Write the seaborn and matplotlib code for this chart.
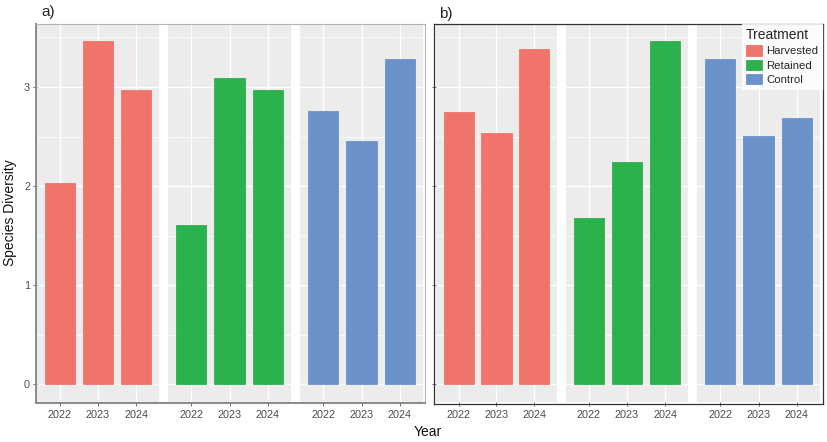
import matplotlib
matplotlib.use("Agg")
import matplotlib.pyplot as plt
from matplotlib.patches import Patch
import seaborn as sns
import pandas as pd

sns.set_theme(style="white")
plt.rcParams['font.family'] = ['Liberation Sans', 'DejaVu Sans']

years = ["2022", "2023", "2024"]
treatments = ["Harvested", "Retained", "Control"]
colors = ["#F0746A", "#2BB24C", "#6B91CB"]
a_harvested = [2.03, 3.46, 2.97]
a_retained = [1.61, 3.09, 2.97]
a_control = [2.76, 2.45, 3.28]
b_harvested = [2.75, 2.54, 3.38]
b_retained = [1.68, 2.24, 3.46]
b_control = [3.28, 2.51, 2.69]
y_ticks = [0, 1, 2, 3]

rows = []
for panel, vals in [("a", [a_harvested, a_retained, a_control]),
                    ("b", [b_harvested, b_retained, b_control])]:
    for t, v in zip(treatments, vals):
        for yr, d in zip(years, v):
            rows.append({"panel": panel, "Treatment": t, "Year": yr, "Diversity": d})
df = pd.DataFrame(rows)

W, H = 827, 442
fig = plt.figure(figsize=(W / 100, H / 100), dpi=100)

def px_axes(x0, y0, x1, y1, **kw):
    return fig.add_axes([x0 / W, (H - y1) / H, (x1 - x0) / W, (y1 - y0) / H], **kw)

top, bot = 25, 402
ylim = (-0.18, 3.626)
facets = {
    "a": [(37, 159), (168, 291), (300, 423)],
    "b": [(436, 557), (566, 688), (697, 820)],
}

# Panel frames
fa = px_axes(36, 24, 425, 403)
fa.set_facecolor("none")
fa.set_xticks([]); fa.set_yticks([])
for s in ["top", "right"]:
    fa.spines[s].set_color("#B5B5B5"); fa.spines[s].set_linewidth(0.8)
for s in ["left", "bottom"]:
    fa.spines[s].set_color("#8A8A8A"); fa.spines[s].set_linewidth(1.4)
fa.set_zorder(5)

fb = px_axes(434, 24, 823, 404)
fb.set_facecolor("none")
fb.set_xticks([]); fb.set_yticks([])
for s in fb.spines.values():
    s.set_color("#333333"); s.set_linewidth(0.9)
fb.set_zorder(5)

for panel in ["a", "b"]:
    for i, (t, (x0, x1)) in enumerate(zip(treatments, facets[panel])):
        ax = px_axes(x0, top, x1, bot)
        sub = df[(df.panel == panel) & (df.Treatment == t)]
        sns.barplot(data=sub, x="Year", y="Diversity", order=years, color=colors[i],
                    width=0.8, ax=ax, edgecolor=colors[i], linewidth=0.6,
                    saturation=1, errorbar=None, zorder=3)
        ax.set_facecolor("#ECECEC")
        ax.set_xlim(-0.6, 2.6)
        ax.set_ylim(*ylim)
        ax.set_yticks(y_ticks)
        ax.set_yticks([0.5, 1.5, 2.5, 3.5], minor=True)
        ax.grid(True, which="major", color="white", linewidth=1.0, zorder=0)
        ax.grid(True, which="minor", axis="y", color="white", linewidth=0.5, zorder=0)
        ax.set_axisbelow(True)
        for s in ax.spines.values():
            s.set_visible(False)
        ax.set_xlabel(""); ax.set_ylabel("")
        ax.tick_params(axis="x", which="major", length=3, width=0.6, color="#555555",
                       labelsize=7.8, labelcolor="#4D4D4D", pad=3, bottom=True)
        if i == 0:
            ax.tick_params(axis="y", which="major", length=3, width=0.6, color="#555555",
                           labelsize=7.8, labelcolor="#4D4D4D", pad=2, left=True,
                           labelleft=(panel == "a"))
        else:
            ax.tick_params(axis="y", which="both", left=False, labelleft=False)
        ax.tick_params(axis="y", which="minor", left=False)

fig.text(41 / W, 1 - 12 / H, "a)", fontsize=11, va="center", ha="left", color="#222222")
fig.text(439 / W, 1 - 14 / H, "b)", fontsize=11, va="center", ha="left", color="#222222")
fig.text(10 / W, 1 - 213 / H, "Species Diversity", rotation=90, fontsize=10,
         va="center", ha="center", color="#111111")
fig.text(428 / W, 1 - 432 / H, "Year", fontsize=10, va="center", ha="center", color="#111111")

handles = [Patch(facecolor=c, edgecolor=c, linewidth=0.6) for c in colors]
leg = fig.legend(handles, treatments, title="Treatment", loc="upper right",
                 bbox_to_anchor=(822 / W, 1 - 24 / H), frameon=True, fancybox=False,
                 fontsize=8.2, title_fontsize=10, handlelength=1.45, handleheight=1.05,
                 handletextpad=0.35, labelspacing=0.28, borderpad=0.35, borderaxespad=0)
leg.get_frame().set_edgecolor("white")
leg.get_frame().set_facecolor("white")
leg._legend_box.align = "left"
leg.set_zorder(10)

fig.savefig("out.png", dpi=100)
